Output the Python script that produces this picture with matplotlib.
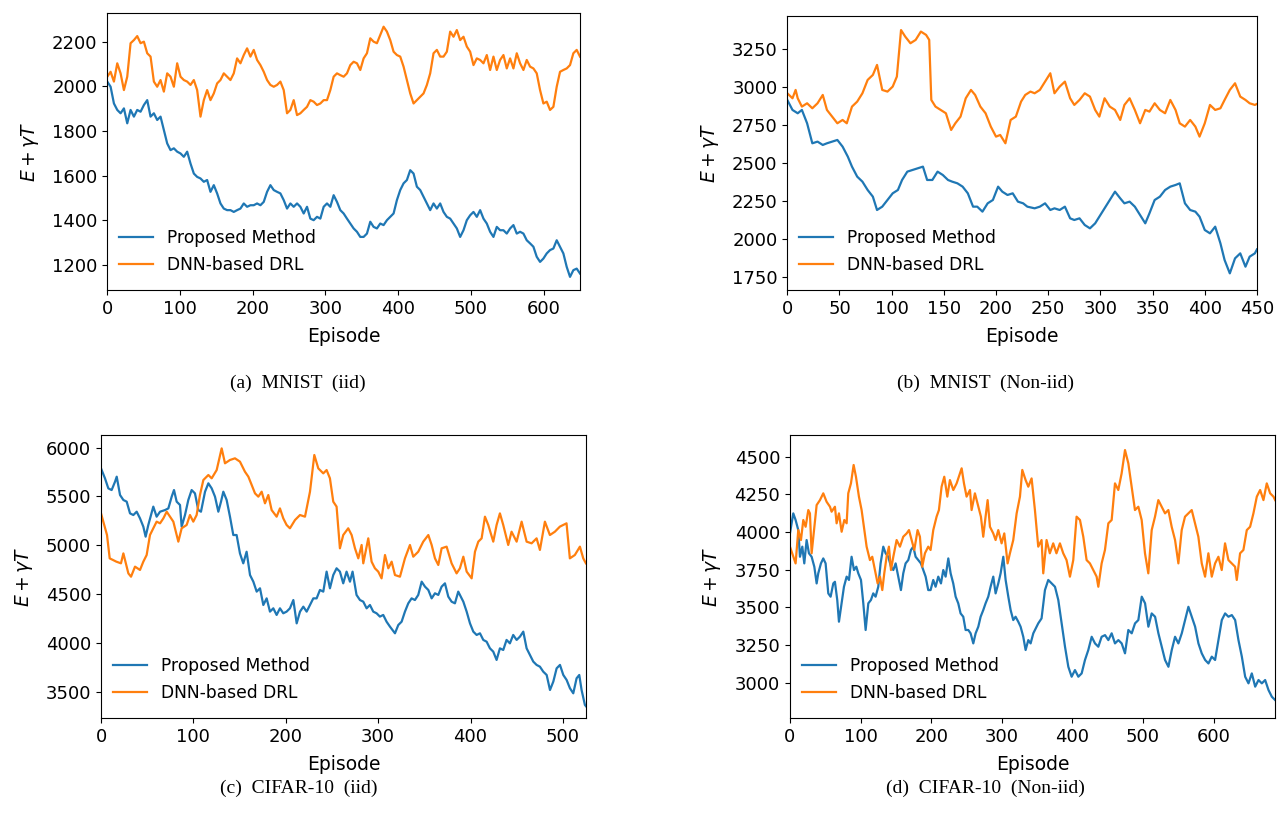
import numpy as np
import matplotlib.pyplot as plt

# ---- (a) MNIST (iid), 650 episodes, evenly sampled ----
a_proposed = [2021, 1998, 1923, 1894, 1879, 1901, 1834, 1894, 1864, 1894,
              1886, 1916, 1938, 1864, 1879, 1849, 1864, 1804, 1744, 1714,
              1722, 1707, 1699, 1684, 1707, 1654, 1609, 1594, 1587, 1572,
              1580, 1527, 1557, 1520, 1475, 1452, 1445, 1445, 1437, 1445,
              1452, 1475, 1460, 1467, 1467, 1475, 1467, 1482, 1527, 1557,
              1535, 1527, 1520, 1490, 1452, 1475, 1460, 1475, 1460, 1430,
              1460, 1407, 1400, 1415, 1407, 1460, 1475, 1460, 1512, 1482,
              1445,
              1430, 1407, 1385, 1363, 1348, 1325, 1325, 1340, 1393, 1370,
              1363, 1385, 1378, 1400, 1415, 1430, 1490, 1535, 1565, 1580,
              1624, 1609, 1550, 1535, 1505, 1475, 1445, 1475, 1452, 1475,
              1437, 1415, 1407, 1385, 1363, 1325, 1355, 1400, 1422, 1437,
              1415, 1445, 1407, 1385, 1348, 1325, 1370, 1355, 1355, 1340,
              1363, 1378, 1340, 1348, 1340, 1310, 1296, 1281, 1236, 1213,
              1228, 1251, 1266, 1273, 1310, 1281, 1251, 1191, 1146, 1176,
              1183, 1161]
a_dnn = [2043, 2065, 2021, 2103, 2058, 1983, 2043, 2193, 2207, 2225,
         2193, 2200, 2148, 2133, 2021, 1998, 2028, 1976, 2058, 2043,
         1998, 2103, 2043, 2028, 2021, 2006, 2028, 1983, 1864, 1938,
         1983, 1938, 1968, 2013, 2028, 2058, 2043, 2028, 2058, 2125,
         2103, 2140, 2170, 2133, 2163, 2118, 2095, 2065, 2028, 2006,
         1998, 2006, 2021, 1983, 1879, 1894, 1938, 1871, 1879, 1894,
         1908, 1938, 1931, 1916, 1923, 1938, 1938, 1983, 2043, 2058,
         2050,
         2043, 2058, 2095, 2110, 2103, 2073, 2125, 2148, 2215, 2200,
         2193, 2230, 2267, 2245, 2207, 2155, 2140, 2133, 2088, 2028,
         1968, 1923, 1938, 1953, 1968, 2006, 2058, 2148, 2163, 2133,
         2133, 2155, 2245, 2222, 2252, 2207, 2222, 2178, 2155, 2095,
         2125, 2118, 2103, 2140, 2073, 2133, 2073, 2118, 2140, 2080,
         2125, 2080, 2148, 2103, 2073, 2118, 2088, 2080, 2058, 1983,
         1923, 1931, 1894, 1908, 1998, 2065, 2073, 2080, 2095, 2148,
         2163, 2133]
a_episodes = 650

# ---- (b) MNIST (Non-iid) ----
b_tail_ep = [237, 242, 247, 252, 256, 261, 266, 271, 275, 280,
             285, 290, 295, 299, 304, 309, 314, 319, 323, 328,
             333, 338, 343, 347, 352, 357, 362, 367, 372, 376,
             381, 386, 391, 395, 400, 405, 410, 415, 419, 424,
             429, 434, 439, 443, 448, 450]
b_proposed_ep = [0, 5, 10, 14, 19, 24, 29, 34, 38, 43,
                 48, 53, 58, 62, 67, 72, 77, 82, 86, 91,
                 96, 101, 106, 110, 115, 120, 125, 130, 134, 139,
                 144, 149, 154, 158, 163, 168, 173, 178, 182, 187,
                 192, 197, 202, 206, 211, 216, 221, 226, 230] + b_tail_ep
b_proposed = [2916, 2850, 2828, 2850, 2762, 2630, 2641, 2619, 2630, 2641,
              2652, 2608, 2542, 2476, 2410, 2377, 2322, 2278, 2190, 2212,
              2256, 2300, 2322, 2388, 2443, 2454, 2465, 2476, 2388, 2388,
              2443, 2421, 2388, 2377, 2366, 2344, 2300, 2212, 2212, 2179,
              2234, 2256, 2344, 2311, 2289, 2300, 2245, 2234, 2212,
              2201, 2212, 2234, 2190, 2201, 2190, 2212, 2135, 2124, 2135,
              2091, 2069, 2102, 2146, 2201, 2256, 2311, 2267, 2234, 2245,
              2212, 2157, 2102, 2168, 2256, 2278, 2322, 2344, 2355, 2366,
              2234, 2190, 2179, 2146, 2058, 2036, 2080, 1970, 1860, 1772,
              1871, 1904, 1816, 1882, 1904, 1930]
b_dnn_ep = [0, 5, 8, 10, 14, 19, 24, 29, 34, 38,
            43, 48, 53, 57, 62, 67, 72, 77, 82, 86,
            91, 96, 101, 105, 109, 113, 118, 123, 128, 133,
            136, 138, 142, 147, 152, 157, 161, 166, 171, 176,
            180, 185, 190, 195, 200, 204, 209, 214, 219, 224,
            228, 233] + b_tail_ep
b_dnn = [2960, 2927, 2982, 2927, 2872, 2894, 2861, 2894, 2949, 2850,
         2806, 2762, 2784, 2762, 2872, 2905, 2960, 3048, 3081, 3147,
         2982, 2971, 3004, 3070, 3377, 3334, 3290, 3312, 3367, 3345,
         3312, 2916, 2872, 2850, 2828, 2718, 2762, 2806, 2927, 2982,
         2949, 2872, 2828, 2740, 2674, 2685, 2630, 2784, 2806, 2905,
         2949, 2971,
         2960, 2982, 3037, 3092, 2960, 3004, 3037, 2927, 2883, 2916,
         2960, 2938, 2850, 2806, 2927, 2872, 2850, 2784, 2883, 2927,
         2850, 2762, 2850, 2839, 2894, 2850, 2828, 2916, 2850, 2762,
         2740, 2784, 2740, 2674, 2762, 2883, 2850, 2861, 2916, 2982,
         3026, 2938, 2916, 2894, 2883, 2890]

# ---- (c) CIFAR-10 (iid) ----
c_proposed_ep = [0, 4.3, 7.9, 11.5, 15.2, 17, 20.6, 24.2, 27.8, 31.4,
                 35, 38.6, 42.2, 45.8, 48.3, 51.2, 56.6, 60.2, 63.9, 69.3,
                 72.9, 76.5, 79, 81.9, 85.5, 87.3, 90.9, 94.5, 98.1, 101.7,
                 105.3, 108.2, 112.6, 116.2, 119.8, 123.4, 127, 129.9, 132.4, 136,
                 139.6, 143.2, 146.8, 150.4, 154, 157.6, 161.3, 164.9, 168.5, 172.1,
                 175.7, 179.3, 182.9, 186.5, 190.1, 193.7, 197.3, 200.9, 204.5, 208.2,
                 211.8, 215.4, 219, 222.6, 226.2, 229.8, 233.4, 237, 240.6, 244.2,
                 247.8, 251.4, 255, 258.6, 262.2, 265.8, 269.5, 272.3, 276.6, 280.3,
                 283.9, 287.5, 291.1, 294.7, 298.3, 301.9, 305.5, 309.1, 312.8, 318.2,
                 321.8, 325.4, 329, 332.6, 336.2, 339.8, 343.4, 347.1, 350.7, 354.3,
                 357.9, 361.5, 365.1, 368.7, 372.3, 375.9, 379.5, 383.1, 386.7, 392.2,
                 395.8, 399.4, 403, 406.6, 410.2, 413.8, 417.4, 421, 424.6, 428.2,
                 431.8, 435.4, 439, 442.6, 446.2, 449.9, 453.5, 457.1, 460.7, 464.3,
                 467.9, 471.5, 475.1, 478.7, 482.4, 486, 489.6, 493.2, 496.8, 500.4,
                 504, 507.6, 511.2, 514.8, 517.7, 520.2, 523.8, 525]
c_proposed = [5788, 5686, 5583, 5566, 5652, 5703, 5515, 5464, 5447, 5327,
              5310, 5344, 5276, 5191, 5088, 5208, 5396, 5293, 5344, 5361,
              5378, 5498, 5566, 5447, 5413, 5191, 5310, 5464, 5566, 5532,
              5361, 5344, 5549, 5635, 5583, 5498, 5344, 5447, 5549, 5464,
              5293, 5105, 5105, 4917, 4815, 4934, 4695, 4627, 4525, 4559,
              4388, 4456, 4320, 4354, 4286, 4354, 4303, 4320, 4354, 4439,
              4200, 4320, 4371, 4320, 4388, 4456, 4456, 4542, 4525, 4730,
              4559, 4695, 4764, 4730, 4610, 4730, 4627, 4730, 4491, 4439,
              4422, 4354, 4388, 4320, 4303, 4269, 4286, 4217, 4166, 4098,
              4183, 4217, 4320, 4405, 4456, 4439, 4491, 4627, 4576, 4542,
              4456, 4508, 4491, 4576, 4610, 4474, 4422, 4405, 4525, 4422,
              4320, 4200, 4115, 4081, 4098, 4030, 4012, 3944, 3910, 3825,
              3944, 3927, 4030, 3995, 4081, 4030, 4064, 4115, 3944, 3876,
              3808, 3774, 3756, 3705, 3671, 3517, 3603, 3739, 3774, 3671,
              3620, 3535, 3483, 3637, 3671, 3517, 3364, 3350]
c_dnn_ep = [0, 6.5, 9.4, 16.6, 21.6, 24.2, 29.6, 32.5, 36.8, 42.2,
            45.8, 49.4, 53, 56.6, 60.2, 63.9, 67.5, 71.1, 74.7, 78.3,
            81.9, 83.7, 87.3, 92.7, 96.3, 99.9, 103.5, 107.1, 110.8, 116.2,
            119.8, 125.2, 130.6, 134.2, 139.6, 145, 150.4, 155.8, 159.5, 163.1,
            166.7, 170.3, 173.9, 177.5, 181.1, 184.7, 190.1, 193.7, 197.3, 200.9,
            204.5, 210, 215.4, 220.8, 226.2, 230.9, 235.2, 240.6, 244.2,
            247.8, 251.4, 255, 258.6, 262.2, 267.6, 271.3, 274.9, 278.5, 282.1,
            283.9, 289.3, 292.9, 296.5, 300.1, 303.7, 307.4, 311, 314.6, 318.2,
            323.6, 329, 334.4, 338, 343.4, 348.8, 354.3, 357.9, 361.5, 365.1,
            368.7, 374.1, 379.5, 384.9, 388.5, 392.2, 395.8, 401.2, 404.8, 408.4,
            412, 415.6, 419.2, 424.6, 428.2, 431.8, 435.4, 440.8, 444.4, 449.9,
            455.3, 460.7, 466.1, 471.5, 475.1, 480.5, 485.9, 491.3, 496.7, 503.9,
            507.5, 512.9, 518.4, 522, 524.9]
c_dnn = [5327, 5105, 4866, 4832, 4815, 4917, 4712, 4678, 4781, 4747,
         4832, 4900, 5105, 5174, 5242, 5225, 5276, 5344, 5293, 5242,
         5105, 5037, 5174, 5208, 5310, 5242, 5310, 5515, 5669, 5720,
         5686, 5771, 5993, 5840, 5874, 5891, 5857, 5754, 5703, 5618,
         5532, 5498, 5549, 5430, 5515, 5361, 5293, 5378, 5276, 5208,
         5174, 5259, 5310, 5293, 5549, 5925, 5788, 5737, 5771,
         5686, 5447, 5396, 4969, 5105, 5174, 5105, 4969, 4866, 5003,
         4815, 5071, 4832, 4764, 4730, 4661, 4900, 4764, 4832, 4695,
         4678, 4866, 5003, 4883, 4934, 5037, 5105, 5003, 4866, 4798,
         4969, 4986, 4815, 4712, 4764, 4883, 4730, 4661, 4934, 5037,
         5071, 5293, 5208, 5037, 5208, 5327, 5208, 5003, 5139, 5037,
         5242, 5037, 5020, 5071, 4952, 5242, 5105, 5139, 5191, 5225,
         4866, 4900, 4986, 4866, 4815]

# ---- (d) CIFAR-10 (Non-iid) ----
d_proposed_ep = [0, 4.7, 8, 11.8, 14.2, 17.5, 20.3, 23.6, 26.9, 30.7,
                 34.5, 37.8, 40.1, 43.9, 47.2, 50.5, 54.3, 57.6, 61.4, 63.7,
                 67, 69.4, 73.2, 76.5, 80.3, 83.6, 87.3, 90.7, 94, 96.8,
                 100.6, 103.9, 107.2, 111, 114.7, 118, 121.3, 125.1, 128.4, 132.2,
                 135.5, 139.3, 143.1, 146.4, 149.7, 153.4, 157.2, 160.5, 163.8, 167.6,
                 171.4, 174.7, 178, 181.8, 185.5, 188.9, 192.2, 195.9, 199.2, 203,
                 206.3, 210.1, 213.9, 217.2, 220.5, 224.3, 227.6, 231.3, 234.7, 238.4,
                 241.7, 245.5, 248.8, 252.6, 255.9, 259.7, 263, 266.8, 270.1, 273.8,
                 277.1, 280.9, 284.2, 288, 291.3, 295.1, 298.4, 302.2, 305.5, 309.3,
                 312.6, 316.3, 319.6, 323.4, 326.7, 330.5, 333.8, 337.6, 340.9, 344.7,
                 351.7, 356.4, 361.2, 365.9, 370.7, 375.4, 380.1, 384.8, 389.6, 394.3,
                 399, 403.7, 408.5, 413.2, 417.9, 422.6, 427.4, 432.1, 436.8, 441.5,
                 446.3, 451, 455.7, 460.4, 465.2, 469.9, 474.6, 479.3, 484.1, 488.8,
                 493.5, 498.3, 503, 507.7, 512.4, 517.2, 521.9, 526.6, 531.3, 536.1,
                 540.8, 545.5, 550.2, 555, 559.7, 564.4, 569.2, 573.9, 578.6, 583.3,
                 588.1, 592.8, 597.5, 602.2, 607, 611.7, 616.4, 621.1, 625.9, 630.6,
                 635.3, 640.1, 644.8, 649.5, 654.2, 659, 663.7, 668.4, 673.1, 677.9,
                 682.6, 687.3]
d_proposed = [3991, 4124, 4080, 4013, 3836, 3903, 3792, 3947, 3859, 3836,
              3770, 3659, 3726, 3792, 3825, 3792, 3593, 3571, 3659, 3670,
              3549, 3405, 3527, 3637, 3704, 3682, 3836, 3748, 3770, 3726,
              3682, 3527, 3350, 3527, 3549, 3593, 3571, 3637, 3792, 3903,
              3859, 3836, 3770, 3748, 3792, 3704, 3615, 3726, 3792, 3814,
              3881, 3903, 3836, 3814, 3792, 3748, 3704, 3615, 3615, 3682,
              3637, 3704, 3659, 3748, 3704, 3825, 3726, 3659, 3571, 3527,
              3460, 3438, 3350, 3350, 3328, 3261, 3328, 3372, 3438, 3482,
              3527, 3571, 3637, 3704, 3593, 3659, 3726, 3836, 3682, 3571,
              3482, 3416, 3438, 3405, 3372, 3305, 3217, 3283, 3261, 3328,
              3394, 3427, 3615, 3682, 3659, 3637, 3549, 3394, 3239, 3106,
              3040, 3084, 3040, 3062, 3151, 3217, 3305, 3261, 3239, 3305,
              3316, 3283, 3328, 3261, 3283, 3261, 3195, 3350, 3328, 3394,
              3416, 3571, 3527, 3372, 3460, 3438, 3328, 3239, 3151, 3106,
              3217, 3305, 3261, 3328, 3416, 3504, 3438, 3372, 3261, 3195,
              3151, 3128, 3173, 3151, 3283, 3416, 3460, 3438, 3449, 3416,
              3283, 3173, 3040, 2996, 3062, 2974, 3018, 2996, 3018, 2951,
              2907, 2885]
d_dnn_ep = [0, 8, 11.8, 15.6, 18.9, 22.2, 26, 28.3, 30.7, 37.8,
            42.5, 47.2, 51.9, 56.7, 59, 63.7, 66.1, 69.4, 73.2, 77,
            80.3, 82.6, 86.4, 90.2, 93.5, 97.7, 101.5, 105.3, 108.6, 113.3,
            116.6, 120.4, 124.2, 127.5, 130.8, 133.6, 136.9, 140.2, 143.1, 146.4,
            151.1, 155.8, 160.5, 165.3, 168.6, 172.3, 176.1, 180.8, 184.1, 187.4,
            191.2, 195.9, 199.2, 203, 207.7, 211, 214.8, 218.6, 222.9, 226.6,
            231.4, 236.1, 243.2, 246.5, 250.2, 255, 257.3, 262, 266.8, 270.5,
            273.8, 277.1, 280, 283.3, 288, 291.3, 295.1, 299.8, 303.6, 308.3,
            311.6, 316.3, 321.1, 325.8, 329.1, 333.8, 337.6, 342.3,
            347, 351.7, 356.4, 358.8, 363.5, 368.1, 372.9, 377.5, 382.4, 387.1,
            391.8, 396.6, 401.3, 406, 410.8, 415.5, 420.2, 424.9, 429.7, 434.4,
            436.8, 441.5, 446.2, 451, 455.7, 460.4, 465.1, 469.8, 474.6, 479.3,
            484, 488.7, 493.5, 498.2, 502.9, 507.6, 512.4, 517.1, 521.8, 526.6,
            531.3, 536, 540.7, 545.5, 550.2, 554.9, 559.6, 564.4, 569.1, 573.8,
            578.5, 583.3, 588, 592.7, 597.5, 602.2, 606.9, 611.6, 616.3, 621.1,
            625.8, 630.5, 632.9, 637.6, 642.3, 647.1, 651.8, 656.5, 661.3, 666,
            670.7, 675.4, 680.2, 684.9, 687.3]
d_dnn = [3903, 3792, 4013, 3947, 4080, 4035, 4146, 4124, 3859, 4179,
         4212, 4257, 4201, 4168, 4135, 4168, 4058, 4124, 4002, 4080,
         4058, 4257, 4323, 4445, 4367, 4235, 4146, 4013, 3903, 3814,
         3836, 3748, 3659, 3704, 3615, 3726, 3836, 3903, 3748, 3836,
         3947, 3903, 3969, 3991, 4013, 3947, 3881, 4013, 3969, 3770,
         3859, 3903, 3881, 4013, 4102, 4146, 4301, 4367, 4235, 4345,
         4279, 4323, 4423, 4323, 4235, 4279, 4146, 4257, 4168, 4102,
         3969, 4102, 4212, 4035, 3991, 3947, 4013, 3925, 3991, 3792,
         3859, 3947, 4124, 4235, 4412, 4345, 4301, 4356,
         4146, 3903, 3947, 3726, 3947, 3859, 3925, 3859, 3925, 3859,
         3814, 3704, 3814, 4102, 4080, 3969, 3814, 3792, 3748, 3704,
         3637, 3792, 3881, 4058, 4080, 4323, 4279, 4389, 4544, 4456,
         4301, 4146, 4168, 4080, 3859, 3726, 4013, 4102, 4212, 4168,
         4124, 4146, 4035, 3947, 3792, 4013, 4102, 4124, 4146, 4058,
         3969, 3792, 3704, 3859, 3704, 3792, 3836, 3748, 3925, 3814,
         3792, 3770, 3682, 3859, 3881, 4013, 4035, 4124, 4235, 4279,
         4212, 4323, 4257, 4235, 4212]

captions = ['(a)  MNIST  (iid)', '(b)  MNIST  (Non-iid)',
            '(c)  CIFAR-10  (iid)', '(d)  CIFAR-10  (Non-iid)']

panels = [
    (np.linspace(0, a_episodes, len(a_proposed)), a_proposed,
     np.linspace(0, a_episodes, len(a_dnn)), a_dnn),
    (b_proposed_ep, b_proposed, b_dnn_ep, b_dnn),
    (c_proposed_ep, c_proposed, c_dnn_ep, c_dnn),
    (d_proposed_ep, d_proposed, d_dnn_ep, d_dnn),
]

# layout (figure fractions) and axis ranges
rects = [[0.0840, 0.6493, 0.3702, 0.3346],
         [0.6165, 0.6493, 0.3678, 0.3314],
         [0.0791, 0.1318, 0.3798, 0.3422],
         [0.6186, 0.1318, 0.3798, 0.3422]]
xlims = [(0, 650), (0, 450), (0, 525), (0, 687)]
ylims = [(1087, 2327), (1662, 3470), (3230, 6130), (2766, 4644)]
xticks = [range(0, 651, 100), range(0, 451, 50), range(0, 501, 100), range(0, 601, 100)]
yticks = [range(1200, 2201, 200), range(1750, 3251, 250),
          range(3500, 6001, 500), range(3000, 4501, 250)]
caption_pos = [(0.2330, 0.5370), (0.7720, 0.5370), (0.2340, 0.0470), (0.7720, 0.0470)]

fig = plt.figure(figsize=(12.77, 8.27), dpi=100)

for i, (xp, yp, xd, yd) in enumerate(panels):
    ax = fig.add_axes(rects[i])
    ax.plot(xp, yp, color='#1f77b4', lw=1.6, label='Proposed Method')
    ax.plot(xd, yd, color='#ff7f0e', lw=1.6, label='DNN-based DRL')
    ax.set_xlim(*xlims[i])
    ax.set_ylim(*ylims[i])
    ax.set_xticks(list(xticks[i]))
    ax.set_yticks(list(yticks[i]))
    ax.tick_params(labelsize=13)
    ax.set_xlabel('Episode', fontsize=13.5, labelpad=7)
    ax.set_ylabel(r'$E+\gamma T$', fontsize=13.5, labelpad=8)
    ax.legend(loc='lower left', bbox_to_anchor=(0.0, 0.015), frameon=False,
              fontsize=12.3, borderaxespad=0.3)
    fig.text(caption_pos[i][0], caption_pos[i][1], captions[i],
             family='Liberation Serif', fontsize=14, ha='center', va='center')

fig.savefig('out.png', dpi=100)
